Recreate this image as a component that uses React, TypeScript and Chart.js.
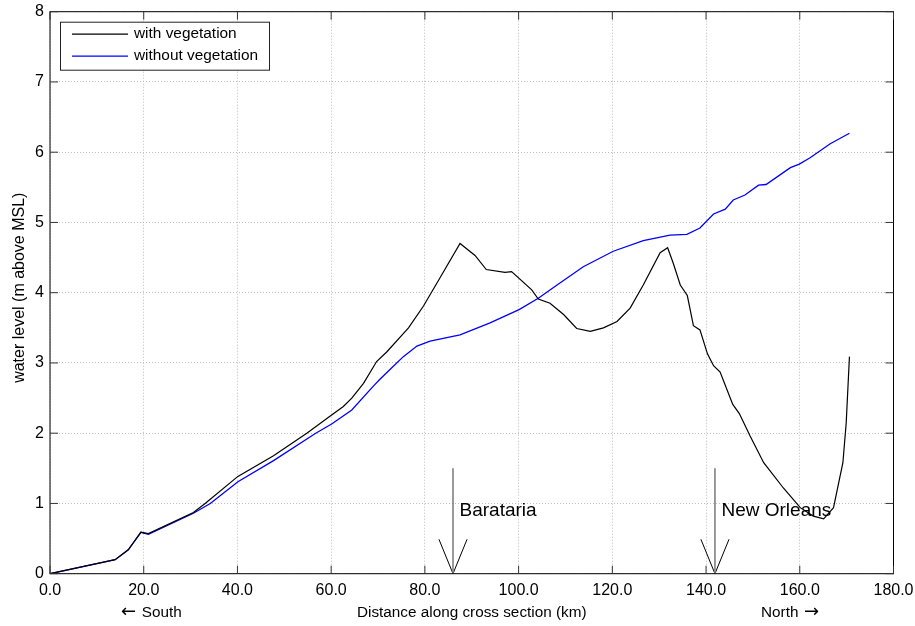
import { useEffect, useRef } from 'react';
import { Chart, registerables } from 'chart.js';

Chart.register(...registerables);

const FONT = '"Liberation Sans", Arial, Helvetica, sans-serif';
const ARROW_FONT = '"DejaVu Sans", sans-serif';

// with vegetation (km, m above MSL)
const WITH_X = [0, 13.9, 16.7, 19.4, 21.0, 30.6, 33.1, 40.1, 47.7, 54.8, 60.1, 62.6, 64.4, 66.9, 69.7, 71.9, 76.5, 79.7, 83.2, 87.5, 90.7, 93.1, 97.1, 98.5, 102.8, 104.2, 106.7, 109.6, 112.4, 115.3, 118.1, 121.0, 123.8, 126.6, 130.2, 131.8, 133.0, 134.5, 136.0, 137.3, 138.7, 140.3, 141.6, 143.0, 145.7, 147.1, 149.4, 152.3, 156.5, 160.1, 162.9, 165.1, 167.2, 169.2, 169.9, 170.6];
const WITH_Y = [0, 0.2, 0.34, 0.59, 0.57, 0.87, 1.0, 1.385, 1.68, 2.0, 2.26, 2.38, 2.5, 2.71, 3.02, 3.16, 3.5, 3.81, 4.21, 4.7, 4.53, 4.33, 4.29, 4.3, 4.04, 3.91, 3.85, 3.69, 3.49, 3.45, 3.5, 3.59, 3.78, 4.11, 4.57, 4.64, 4.42, 4.11, 3.96, 3.53, 3.47, 3.13, 2.96, 2.87, 2.41, 2.28, 1.96, 1.58, 1.22, 0.94, 0.82, 0.78, 0.94, 1.58, 2.14, 3.09];

// without vegetation
const WITHOUT_X = [0, 13.9, 16.7, 19.4, 21.0, 30.6, 34.2, 40.1, 47.7, 56.7, 60.1, 64.4, 69.0, 70.3, 72.6, 75.4, 78.3, 81.1, 87.5, 93.9, 100.1, 104.2, 108.2, 113.8, 120.2, 126.6, 132.3, 135.9, 138.7, 141.6, 144.1, 145.8, 148.3, 151.2, 152.8, 158.0, 159.9, 162.2, 166.5, 170.6];
const WITHOUT_Y = [0, 0.2, 0.34, 0.59, 0.56, 0.86, 1.0, 1.31, 1.61, 2.0, 2.13, 2.33, 2.67, 2.76, 2.91, 3.09, 3.24, 3.31, 3.4, 3.57, 3.76, 3.92, 4.11, 4.37, 4.59, 4.74, 4.82, 4.83, 4.92, 5.12, 5.19, 5.32, 5.39, 5.53, 5.54, 5.78, 5.83, 5.92, 6.12, 6.27];

// locations marked with arrows
const PLACE_NAMES = ['Barataria', 'New Orleans'];
const PLACE_KM = [86.0, 141.9];
const ARROW_TOP = 1.5;
const HEAD_HALF_KM = 3.0;
const HEAD_LEVEL = 0.49;
const LABEL_LEVEL = 0.9;

const X_TICKS = [0, 20, 40, 60, 80, 100, 120, 140, 160, 180];
const Y_TICKS = [0, 1, 2, 3, 4, 5, 6, 7, 8];

const SERIES_LABELS = ['with vegetation', 'without vegetation'];
const SERIES_COLORS = ['#000000', '#0000ff'];

const toPoints = (xs: number[], ys: number[]) => xs.map((v, i) => ({ x: v, y: ys[i] }));

const matlabPlugin = {
  id: 'matlabDecor',
  afterDraw(chart: any) {
    const { ctx, chartArea: a, scales } = chart;
    const x = scales.x;
    const y = scales.y;
    ctx.save();
    // box
    ctx.strokeStyle = '#000';
    ctx.lineWidth = 1;
    ctx.strokeRect(a.left, a.top, a.right - a.left, a.bottom - a.top);
    // inward ticks
    ctx.strokeStyle = '#333';
    ctx.beginPath();
    X_TICKS.forEach((v) => {
      const px = x.getPixelForValue(v);
      ctx.moveTo(px, a.bottom);
      ctx.lineTo(px, a.bottom - 8);
      ctx.moveTo(px, a.top);
      ctx.lineTo(px, a.top + 8);
    });
    Y_TICKS.forEach((v) => {
      const py = y.getPixelForValue(v);
      ctx.moveTo(a.left, py);
      ctx.lineTo(a.left + 8, py);
      ctx.moveTo(a.right, py);
      ctx.lineTo(a.right - 8, py);
    });
    ctx.stroke();

    // place labels
    ctx.fillStyle = '#000';
    ctx.font = '19px ' + FONT;
    ctx.textAlign = 'left';
    ctx.textBaseline = 'middle';
    PLACE_NAMES.forEach((name, i) => {
      ctx.fillText(name, x.getPixelForValue(PLACE_KM[i]) + 6.5, y.getPixelForValue(LABEL_LEVEL));
    });

    // legend
    const lx = a.left + 10;
    const ly = a.top + 10;
    ctx.fillStyle = '#fff';
    ctx.fillRect(lx, ly, 209, 48);
    ctx.strokeStyle = '#222';
    ctx.lineWidth = 1;
    ctx.strokeRect(lx + 0.5, ly + 0.5, 209, 48);
    ctx.font = '15.4px ' + FONT;
    SERIES_LABELS.forEach((lab, i) => {
      const yy = ly + 12.5 + i * 22;
      ctx.strokeStyle = SERIES_COLORS[i];
      ctx.lineWidth = 1.2;
      ctx.beginPath();
      ctx.moveTo(lx + 12, yy);
      ctx.lineTo(lx + 68, yy);
      ctx.stroke();
      ctx.fillStyle = '#000';
      ctx.fillText(lab, lx + 74, yy);
    });

    // axis titles
    ctx.fillStyle = '#000';
    ctx.textBaseline = 'middle';
    const ty = a.bottom + 39;
    ctx.font = '15.3px ' + FONT;
    ctx.textAlign = 'center';
    ctx.fillText('Distance along cross section (km)', (a.left + a.right) / 2, ty);
    ctx.textAlign = 'left';
    ctx.fillText('South', a.left + 91.7, ty);
    ctx.fillText('North', a.left + 711, ty);
    ctx.font = '18px ' + ARROW_FONT;
    ctx.fillText('\u2190', a.left + 71, ty);
    ctx.fillText('\u2192', a.left + 754, ty);

    ctx.save();
    ctx.translate(20, (a.top + a.bottom) / 2 - 5);
    ctx.rotate(-Math.PI / 2);
    ctx.textAlign = 'center';
    ctx.font = '16px ' + FONT;
    ctx.fillText('water level (m above MSL)', 0, 0);
    ctx.restore();

    ctx.restore();
  },
};

export default function App() {
  const ref = useRef<HTMLCanvasElement | null>(null);

  useEffect(() => {
    document.body.style.margin = '0';
    const canvas = ref.current;
    if (!canvas) return;

    const arrowShafts = PLACE_KM.map((km) => ({
      data: [{ x: km, y: ARROW_TOP }, { x: km, y: 0 }],
      borderColor: '#808080',
      borderWidth: 1.6,
    }));
    const arrowHeads = PLACE_KM.map((km) => ({
      data: [
        { x: km - HEAD_HALF_KM, y: HEAD_LEVEL },
        { x: km, y: 0 },
        { x: km + HEAD_HALF_KM, y: HEAD_LEVEL },
      ],
      borderColor: '#000000',
      borderWidth: 1,
    }));

    const chart = new Chart(canvas, {
      type: 'scatter',
      data: {
        datasets: [
          {
            label: SERIES_LABELS[0],
            data: toPoints(WITH_X, WITH_Y),
            borderColor: SERIES_COLORS[0],
            borderWidth: 1.2,
          },
          {
            label: SERIES_LABELS[1],
            data: toPoints(WITHOUT_X, WITHOUT_Y),
            borderColor: SERIES_COLORS[1],
            borderWidth: 1.3,
          },
          ...arrowShafts,
          ...arrowHeads,
        ].map((d: any) => ({
          ...d,
          showLine: true,
          pointRadius: 0,
          pointHoverRadius: 0,
          tension: 0,
          fill: false,
          backgroundColor: d.borderColor,
        })),
      },
      options: {
        animation: false,
        responsive: false,
        maintainAspectRatio: false,
        devicePixelRatio: 1,
        events: [],
        layout: { padding: { top: 11.7, right: 21.5, left: 0, bottom: 0 } },
        plugins: {
          legend: { display: false },
          tooltip: { enabled: false },
          title: { display: false },
        },
        scales: {
          x: {
            type: 'linear',
            min: 0,
            max: 180,
            afterFit: (s: any) => {
              s.height = 52.3;
              s.paddingLeft = 0;
              s.paddingRight = 0;
            },
            afterBuildTicks: (s: any) => {
              s.ticks = X_TICKS.map((v) => ({ value: v }));
            },
            ticks: {
              callback: (v: any) => Number(v).toFixed(1),
              font: { family: FONT, size: 16 },
              color: '#000',
              padding: 7,
              maxRotation: 0,
              autoSkip: false,
            },
            grid: { color: '#bdbdbd', lineWidth: 1, drawTicks: false },
            border: { display: false, dash: [1, 2] },
          },
          y: {
            type: 'linear',
            min: 0,
            max: 8,
            afterFit: (s: any) => {
              s.width = 50;
              s.paddingTop = 0;
              s.paddingBottom = 0;
            },
            afterBuildTicks: (s: any) => {
              s.ticks = Y_TICKS.map((v) => ({ value: v }));
            },
            ticks: {
              callback: (v: any) => String(v),
              font: { family: FONT, size: 16 },
              color: '#000',
              padding: 6,
              autoSkip: false,
            },
            grid: { color: '#bdbdbd', lineWidth: 1, drawTicks: false },
            border: { display: false, dash: [1, 2] },
          },
        },
      },
      plugins: [matlabPlugin],
    } as any);

    return () => chart.destroy();
  }, []);

  return (
    <div style={{ position: 'absolute', left: 0, top: 0, width: 915, height: 626, background: '#fff' }}>
      <canvas ref={ref} width={915} height={626} style={{ display: 'block', width: 915, height: 626 }} />
    </div>
  );
}
